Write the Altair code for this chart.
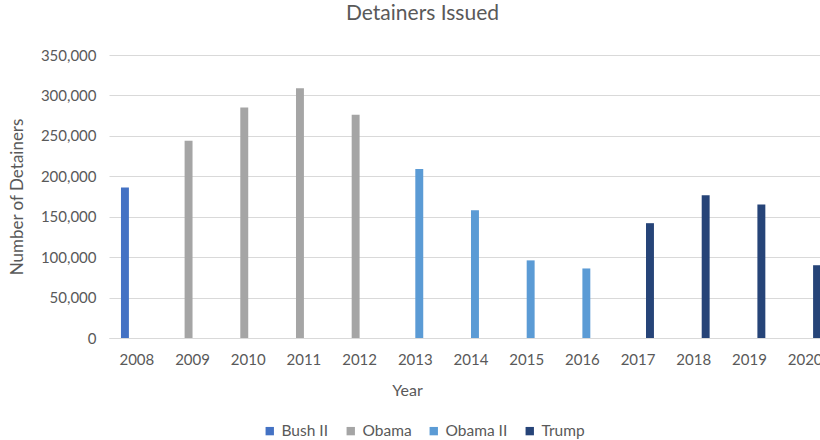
import altair as alt
import pandas as pd

years = ["2008", "2009", "2010", "2011", "2012", "2013", "2014", "2015", "2016", "2017", "2018", "2019", "2020"]
series = ["Bush II", "Obama", "Obama", "Obama", "Obama", "Obama II", "Obama II", "Obama II", "Obama II", "Trump", "Trump", "Trump", "Trump"]
values = [186000, 244000, 285000, 309000, 276000, 209000, 158000, 96000, 86000, 142000, 176500, 165000, 90000]

series_order = ["Bush II", "Obama", "Obama II", "Trump"]
colors = ["#4472C4", "#A5A5A5", "#5B9BD5", "#264478"]

df = pd.DataFrame({"Year": years, "Series": series, "Detainers": values})

FONT = "Lato"
TXT = "#595959"

chart = alt.Chart(df).mark_bar().encode(
    x=alt.X("Year:N", sort=years,
            scale=alt.Scale(domain=years, range=[0, 724], paddingInner=0.43, paddingOuter=0.215),
            axis=alt.Axis(title="Year", labelAngle=0, ticks=False, domainColor="#D9D9D9",
                          labelPadding=14, titlePadding=15, titleX=298, titleAnchor="middle")),
    xOffset=alt.XOffset("Series:N", scale=alt.Scale(domain=series_order, paddingInner=0, paddingOuter=0)),
    y=alt.Y("Detainers:Q", scale=alt.Scale(domain=[0, 350000]),
            axis=alt.Axis(title="Number of Detainers", values=list(range(0, 350001, 50000)), format=",d",
                          ticks=False, domain=False, gridColor="#D9D9D9", labelPadding=13,
                          titlePadding=14, titleFontSize=17)),
    color=alt.Color("Series:N", scale=alt.Scale(domain=series_order, range=colors),
                    legend=alt.Legend(title=None, orient="none", direction="horizontal",
                                      legendX=153, legendY=368, symbolType="square",
                                      symbolSize=70, columnPadding=14, labelOffset=4,
                                      labelFontSize=15.5)),
).properties(
    width=711, height=283,
    title=alt.TitleParams("Detainers Issued", dx=-42, offset=24),
    autosize=alt.AutoSizeParams(type="none"),
    padding={"left": 109, "top": 55, "right": 0, "bottom": 102},
).configure_view(stroke=None).configure_axis(
    labelFont=FONT, titleFont=FONT, labelColor=TXT, titleColor=TXT,
    labelFontSize=15, titleFontSize=16, titleFontWeight="normal", grid=True
).configure_axisX(grid=False).configure_legend(
    labelFont=FONT, labelColor=TXT, labelFontSize=15
).configure_title(font=FONT, fontSize=21, fontWeight="normal", color=TXT, anchor="middle")

chart.save("out.html", embed_options={"renderer": "svg", "actions": False})
